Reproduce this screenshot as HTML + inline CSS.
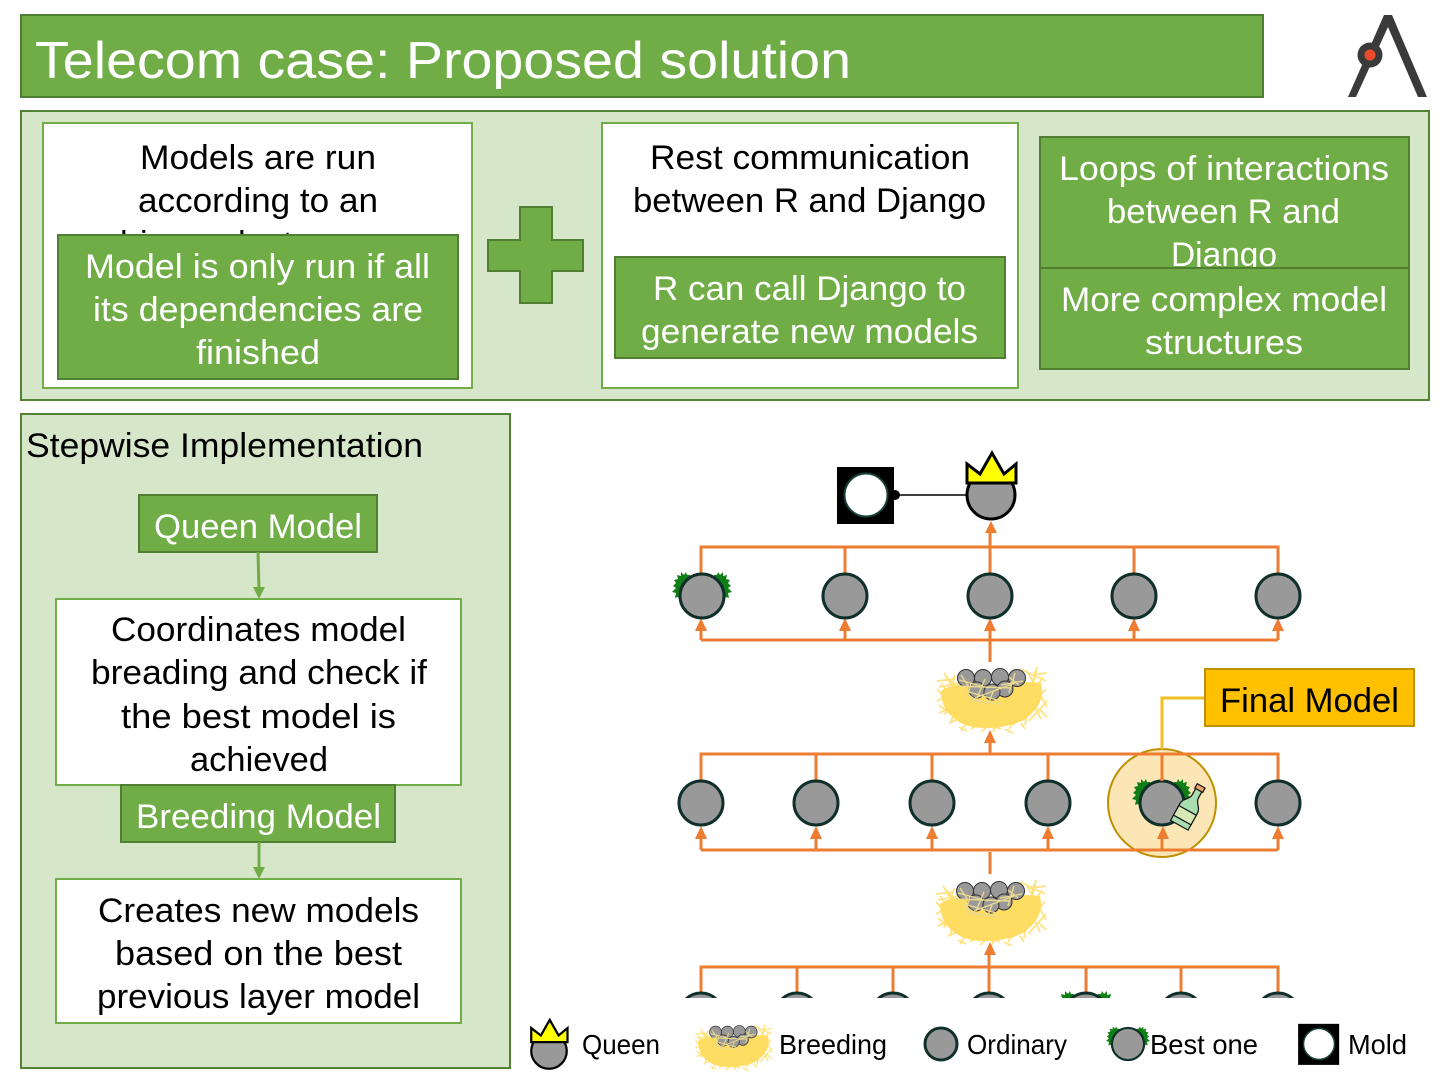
<!DOCTYPE html>
<html>
<head>
<meta charset="utf-8">
<style>
html,body{margin:0;padding:0;background:#fff;width:1440px;height:1080px;overflow:hidden}
svg{display:block}
text{font-family:"Liberation Sans",sans-serif;font-size:34px;fill:#000}
.w{fill:#fff}
.l{font-size:28px}
.g{fill:#70AD47;stroke:#507E32;stroke-width:2}
.p{fill:#D5E6C9;stroke:#548235;stroke-width:2}
.b{fill:#fff;stroke:#70AD47;stroke-width:2}
.o{stroke:#ED7D31;stroke-width:3;fill:none}
.a{fill:#ED7D31}
.n{fill:#999;stroke:#0F2F2A;stroke-width:3}
</style>
</head>
<body>
<svg width="1440" height="1080" viewBox="0 0 1440 1080" xmlns="http://www.w3.org/2000/svg">
<defs>
<g id="node"><circle r="22" class="n"/></g>
<g id="grass" fill="#0F7E14">
<polygon points="-12,-21 -15,-21 -16,-24 -18,-21 -21,-24 -21,-20 -25,-21 -24,-17 -28,-16 -26,-13 -29,-10 -26,-8 -30,-4 -26,-3 -27,2 -24,1 -22,4 -20,2 -12,-10"/>
<polygon points="12,-21 15,-21 16,-24 18,-21 21,-24 21,-20 25,-21 24,-17 28,-16 26,-13 29,-10 26,-8 30,-4 26,-3 27,2 24,1 22,4 20,2 12,-10"/>
</g>
<g id="best"><use href="#grass"/><circle r="22" class="n"/></g>
<g id="mold"><rect x="-29" y="-28" width="57" height="57" fill="#000"/><circle r="21.5" fill="#fff" stroke="#17423B" stroke-width="2"/></g>
<g id="queen">
<circle r="24" fill="#999" stroke="#000" stroke-width="3"/>
<polygon points="-24,-31 -11,-21 1,-42 13,-21 25,-31 25,-12 -24,-12" fill="#FFFF00" stroke="#000" stroke-width="3"/>
</g>
<g id="nest">
<path d="M-54,-6 L-28,24 M-50,-12 L-18,32 M-44,-16 L-6,32 M-36,-20 L-46,20 M-28,-16 L-40,28 M-54,6 L-26,-10 M-52,18 L-14,0 M-42,28 L10,6 M-20,34 L32,2 M2,34 L50,-12 M22,30 L55,-6 M38,26 L56,6 M44,-24 L34,30 M52,-18 L18,34 M36,-24 L56,12 M28,-22 L50,24 M-46,14 L10,34 M-52,-8 L-22,-14 M-44,-18 L-26,2 M30,-26 L55,-14 M-32,32 L-24,36 M-10,37 L-2,30 M40,-20 L56,-22 M46,-28 L42,-10 M-47,-22 L-38,-8 M-54,-14 L-36,-16 M14,34 L22,38 M48,14 L56,22 M-52,10 L-42,18 M-26,30 L-30,36 M4,32 L2,37 M30,28 L34,34" stroke="#FFE27E" stroke-width="1.8" fill="none"/>
<path d="M-50,-4 C-42,-10 -32,-12 -5,-10 C20,-12 34,-14 50,-12 C54,6 45,16 33,25 C15,34 -15,36 -30,28 C-44,20 -50,10 -50,-4Z" fill="#FFDC62"/>
<g fill="#999" stroke="#333" stroke-width="1">
<circle cx="-25" cy="-17" r="8.5"/><circle cx="-8" cy="-17" r="8.5"/><circle cx="9" cy="-18" r="8.5"/><circle cx="26" cy="-17" r="8.5"/>
<circle cx="-14" cy="-5" r="8"/><circle cx="14" cy="-6" r="8"/><circle cx="1" cy="-3" r="8"/>
</g>
<path d="M-32,-15 L-2,-7 M-34,-9 L20,-7 M-26,-4 L6,5 M-16,3 L24,-12 M-20,-12 L-24,3 M2,-3 L-2,7 M18,-18 L28,-10 M-6,-16 L-14,3 M-22,5 L10,9 M10,-10 L32,-14 M-30,-20 L-22,-8 M24,-22 L18,-2 M-24,-1 L-10,8" stroke="#EBD98F" stroke-width="1.4" fill="none"/>
</g>
<clipPath id="c"><rect x="660" y="960" width="660" height="38"/></clipPath>
</defs>

<!-- Header -->
<rect x="21" y="15" width="1242" height="82" class="g"/>
<text x="35" y="78" class="w" style="font-size:52px" textLength="816" lengthAdjust="spacingAndGlyphs">Telecom case: Proposed solution</text>
<polygon points="1384,15 1392,15 1427,97 1418,97 1388,27 1356,97 1348,97" fill="#3A3A3A"/>
<circle cx="1370" cy="55" r="12.5" fill="#3A3A3A"/><circle cx="1370" cy="55" r="5.5" fill="#EE4B2B"/>

<!-- Top panel -->
<rect x="21" y="111" width="1408" height="289" class="p"/>
<rect x="43" y="123" width="429" height="265" class="b"/>
<text x="140" y="169" textLength="236" lengthAdjust="spacingAndGlyphs">Models are run</text>
<text x="138" y="212" textLength="240" lengthAdjust="spacingAndGlyphs">according to an</text>
<text x="120 140 148 167 178 197 208 238 257 275 283 292 303 322" y="255">hierarchy tree</text>
<rect x="58" y="235" width="400" height="144" class="g"/>
<text x="85" y="278" class="w" textLength="345" lengthAdjust="spacingAndGlyphs">Model is only run if all</text>
<text x="93" y="321" class="w" textLength="330" lengthAdjust="spacingAndGlyphs">its dependencies are</text>
<text x="196" y="364" class="w" textLength="124" lengthAdjust="spacingAndGlyphs">finished</text>

<polygon points="520,207 552,207 552,240 583,240 583,271 552,271 552,303 520,303 520,271 488,271 488,240 520,240" class="g"/>

<rect x="602" y="123" width="416" height="265" class="b"/>
<text x="650" y="169" textLength="320" lengthAdjust="spacingAndGlyphs">Rest communication</text>
<text x="633" y="212" textLength="353" lengthAdjust="spacingAndGlyphs">between R and Django</text>
<rect x="615" y="257" width="390" height="101" class="g"/>
<text x="653" y="300" class="w" textLength="313" lengthAdjust="spacingAndGlyphs">R can call Django to</text>
<text x="641" y="343" class="w" textLength="337" lengthAdjust="spacingAndGlyphs">generate new models</text>

<rect x="1040" y="137" width="369" height="131" class="g"/>
<text x="1059" y="180" class="w" textLength="330" lengthAdjust="spacingAndGlyphs">Loops of interactions</text>
<text x="1107" y="223" class="w" textLength="233" lengthAdjust="spacingAndGlyphs">between R and</text>
<text x="1171" y="266" class="w" textLength="106" lengthAdjust="spacingAndGlyphs">Django</text>
<rect x="1040" y="268" width="369" height="101" class="g"/>
<text x="1061" y="311" class="w" textLength="326" lengthAdjust="spacingAndGlyphs">More complex model</text>
<text x="1145" y="354" class="w" textLength="158" lengthAdjust="spacingAndGlyphs">structures</text>

<!-- Left panel -->
<rect x="21" y="414" width="489" height="654" class="p"/>
<text x="26" y="457" textLength="397" lengthAdjust="spacingAndGlyphs">Stepwise Implementation</text>
<rect x="139" y="495" width="238" height="57" class="g"/>
<text x="154" y="538" class="w" textLength="208" lengthAdjust="spacingAndGlyphs">Queen Model</text>
<path d="M258,552 L259,590" stroke="#70AD47" stroke-width="3" fill="none"/>
<polygon points="259,599 253,587 265,587" fill="#70AD47"/>
<rect x="56" y="599" width="405" height="186" class="b"/>
<text x="111" y="641" textLength="295" lengthAdjust="spacingAndGlyphs">Coordinates model</text>
<text x="91" y="684" textLength="336" lengthAdjust="spacingAndGlyphs">breading and check if</text>
<text x="121" y="728" textLength="275" lengthAdjust="spacingAndGlyphs">the best model is</text>
<text x="190" y="771" textLength="138" lengthAdjust="spacingAndGlyphs">achieved</text>
<rect x="121" y="785" width="274" height="57" class="g"/>
<text x="136" y="828" class="w" textLength="245" lengthAdjust="spacingAndGlyphs">Breeding Model</text>
<path d="M259,842 L259,870" stroke="#70AD47" stroke-width="3" fill="none"/>
<polygon points="259,879 253,867 265,867" fill="#70AD47"/>
<rect x="56" y="879" width="405" height="144" class="b"/>
<text x="98" y="922" textLength="321" lengthAdjust="spacingAndGlyphs">Creates new models</text>
<text x="115" y="965" textLength="287" lengthAdjust="spacingAndGlyphs">based on the best</text>
<text x="97" y="1008" textLength="323" lengthAdjust="spacingAndGlyphs">previous layer model</text>

<!-- Queen level -->
<path d="M894,495 L966,495" stroke="#000" stroke-width="1.5"/>
<use href="#mold" x="866" y="495"/>
<circle cx="895" cy="495" r="5" fill="#000"/>
<use href="#queen" x="991" y="495"/>

<!-- Layer 1 -->
<path d="M701,574 V547 H1278 V574 M845,547 V574 M990,530 V574 M1134,547 V574" class="o"/>
<path d="M701,640 H1278 M701,626 V640 M845,626 V640 M990,626 V662 M1134,626 V640 M1278,626 V640" class="o"/>
<polygon points="991,521 985,533 997,533" class="a"/>
<g class="a">
<polygon points="701,618 695,631 707,631"/><polygon points="845,618 839,631 851,631"/><polygon points="990,618 984,631 996,631"/><polygon points="1134,618 1128,631 1140,631"/><polygon points="1278,618 1272,631 1284,631"/>
</g>
<use href="#best" x="702" y="596"/>
<use href="#node" x="845" y="596"/>
<use href="#node" x="990" y="596"/>
<use href="#node" x="1134" y="596"/>
<use href="#node" x="1278" y="596"/>

<use href="#nest" x="991" y="695"/>

<!-- Layer 2 -->
<circle cx="1162" cy="803" r="54" fill="#FCE6B6" stroke="#BF9000" stroke-width="2"/>
<path d="M1205,698 H1162 V749" stroke="#F2BE22" stroke-width="3" fill="none"/>
<rect x="1205" y="669" width="209" height="57" fill="#FFC000" stroke="#BF9000" stroke-width="2"/>
<text x="1220" y="712" textLength="179" lengthAdjust="spacingAndGlyphs">Final Model</text>
<path d="M701,781 V754 H1278 V781 M816,754 V781 M932,754 V781 M1048,754 V781 M990,738 V754" class="o"/>
<path d="M701,850 H1278 M701,834 V850 M816,834 V850 M932,834 V850 M1048,834 V850 M1162,834 V850 M1278,834 V850 M990,852 V874" class="o"/>
<polygon points="990,730 984,743 996,743" class="a"/>
<g class="a">
<polygon points="701,826 695,839 707,839"/><polygon points="816,826 810,839 822,839"/><polygon points="932,826 926,839 938,839"/><polygon points="1048,826 1042,839 1054,839"/><polygon points="1163,826 1157,839 1169,839"/><polygon points="1278,826 1272,839 1284,839"/>
</g>
<use href="#node" x="701" y="803"/>
<use href="#node" x="816" y="803"/>
<use href="#node" x="932" y="803"/>
<use href="#node" x="1048" y="803"/>
<use href="#best" x="1162" y="803"/>
<use href="#node" x="1278" y="803"/>
<path d="M1162,754 V781" class="o"/>
<g transform="translate(1190,806) rotate(29)" stroke="#111" stroke-width="1.2">
<path d="M-3.5,-19 H3.5 V-11 C3.5,-5 10,-4 10,3 V22 H-10 V3 C-10,-4 -3.5,-5 -3.5,-11Z" fill="#A8DDB0"/>
<rect x="-10" y="5" width="20" height="11" fill="#D6E8B4"/>
<rect x="-4.5" y="-23" width="9" height="5" fill="#E9A36F"/>
</g>

<use href="#nest" x="990" y="908"/>

<!-- Layer 3 -->
<polygon points="990,942 984,955 996,955" class="a"/>
<path d="M701,993 V967 H1278 V993 M797,967 V993 M893,967 V993 M989,952 V993 M1086,967 V993 M1181,967 V993" class="o"/>
<g clip-path="url(#c)">
<use href="#node" x="701" y="1015"/><use href="#node" x="797" y="1015"/><use href="#node" x="893" y="1015"/><use href="#node" x="989" y="1015"/><use href="#best" x="1086" y="1015"/><use href="#node" x="1181" y="1015"/><use href="#node" x="1278" y="1015"/>
</g>

<!-- Legend -->
<g transform="translate(549,1051) scale(0.74)"><use href="#queen"/></g>
<text x="582" y="1054" class="l" textLength="78" lengthAdjust="spacingAndGlyphs">Queen</text>
<g transform="translate(733,1044) scale(0.7)"><use href="#nest"/></g>
<text x="779" y="1054" class="l" textLength="108" lengthAdjust="spacingAndGlyphs">Breeding</text>
<circle cx="941" cy="1044" r="16" class="n"/>
<text x="967" y="1054" class="l" textLength="100" lengthAdjust="spacingAndGlyphs">Ordinary</text>
<g transform="translate(1128,1044) scale(0.73)"><use href="#best"/></g>
<text x="1150" y="1054" class="l" textLength="108" lengthAdjust="spacingAndGlyphs">Best one</text>
<g transform="translate(1319,1044) scale(0.72)"><use href="#mold"/></g>
<text x="1348" y="1054" class="l" textLength="59" lengthAdjust="spacingAndGlyphs">Mold</text>
</svg>
</body>
</html>
